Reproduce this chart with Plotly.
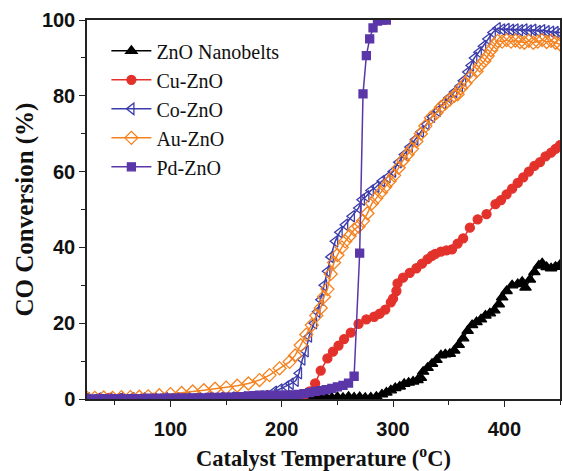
import plotly.graph_objects as go

# ---- data ----
zno_x = [200, 210, 220, 225, 230, 235, 240, 245, 250, 255, 260, 265, 270, 275, 280, 285, 290, 294, 298, 302, 306,
         310, 314, 318, 322, 325, 327, 331, 335, 339, 343, 347, 351, 355, 359, 363, 367, 371, 375, 379, 383, 387,
         391, 395, 398, 402, 407, 412, 416, 419, 423, 427, 431, 434, 438, 442, 446, 450]
zno_y = [0.0, 0.1, 0.0, 0.2, 0.3, 0.2, 0.4, 0.3, 0.5, 0.3, 0.6, 0.4, 0.5, 0.3, 0.4, 0.6, 1.2, 1.7, 2.3, 2.9, 3.3,
         4.0, 4.3, 4.6, 5.0, 5.6, 7.2, 8.2, 9.3, 10.3, 11.5, 11.8, 11.9, 12.8, 14.3, 16.0, 18.0, 19.5, 20.3, 21.0,
         22.0, 22.6, 23.4, 25.0, 26.8, 28.5, 30.0, 30.3, 30.9, 29.4, 31.5, 33.5, 35.2, 35.8, 34.8, 34.5, 34.9, 35.4]

cu_x = [25, 35, 45, 55, 65, 75, 85, 95, 105, 115, 125, 135, 145, 155, 165, 175, 185, 195, 205, 210, 215, 220, 225,
        230, 235, 241, 246, 251, 256, 262, 269, 276, 283, 288, 293, 298, 300, 303, 304, 309, 315, 321, 326, 331, 335,
        338, 343, 348, 353, 358, 363, 369, 376, 384, 392, 397, 402, 407, 412, 417, 422, 427, 432, 437, 442, 446, 450]
cu_y = [0.2, 0.1, 0.3, 0.2, 0.1, 0.2, 0.3, 0.1, 0.2, 0.2, 0.1, 0.3, 0.2, 0.2, 0.1, 0.2, 0.3, 0.2, 0.3, 0.6, 1.0,
        1.0, 2.0, 4.1, 7.5, 10.7, 12.5, 14.1, 15.8, 17.5, 19.8, 21.0, 21.7, 22.5, 23.6, 25.5, 26.5, 28.5, 30.5, 32.0,
        33.3, 34.5, 35.7, 36.9, 37.8, 38.3, 38.9, 39.2, 39.5, 41.0, 42.4, 45.2, 47.4, 48.8, 51.4, 52.5, 54.0, 55.5,
        57.0, 58.5, 60.0, 61.5, 62.5, 64.0, 65.0, 66.0, 67.0]

co_x = [25, 35, 45, 55, 65, 75, 85, 95, 105, 115, 125, 135, 145, 155, 165, 175, 185, 193, 198, 204, 208, 212.5,
        215.5, 218.5, 221.5, 224.5, 229, 232, 235, 238, 241, 244, 248, 252, 257, 263, 269, 272, 276, 280, 285, 290,
        295, 300, 305, 310, 315, 320, 325, 330, 335, 340, 345, 350, 355, 360, 363, 367, 370, 373, 377, 381, 385,
        389.6, 394, 398, 402, 406, 410, 414, 418, 422, 426, 430, 434, 438, 442, 446, 450]
co_y = [0.1, 0.1, 0.2, 0.1, 0.2, 0.2, 0.1, 0.2, 0.2, 0.3, 0.2, 0.3, 0.3, 0.4, 0.4, 0.5, 0.8, 1.9, 2.5, 3.3, 4.0,
        4.8, 6.8, 10.4, 12.6, 16.5, 20.0, 23.0, 26.2, 30.0, 33.7, 37.5, 41.6, 44.0, 46.0, 48.2, 50.4, 52.6, 53.5,
        55.0, 56.0, 57.5, 58.5, 60.0, 62.5, 64.5, 66.5, 68.5, 70.5, 72.5, 74.5, 76.0, 78.0, 79.5, 81.0, 82.5, 84.0,
        86.3, 88.0, 90.0, 91.5, 93.1, 95.0, 96.7, 97.8, 97.5, 97.6, 97.4, 97.5, 97.3, 97.5, 97.2, 97.4, 97.1, 97.3,
        97.0, 96.9, 96.8, 96.7]

au_x = [25, 32, 40, 48, 56, 64, 72, 80, 90, 100, 110, 120, 130, 140, 150, 160, 170, 180, 189, 198, 207, 212, 217,
        222, 227, 231, 235, 238, 241, 244, 247, 250, 254, 257, 261, 265, 269, 273, 277, 281, 285, 289, 293, 297, 301,
        305, 309, 313, 317, 321, 325, 329, 334, 339, 343, 347, 351, 355, 358, 361, 365, 370, 375, 378, 382, 385, 388,
        391, 394, 398, 402, 406, 410, 414, 418, 422, 426, 430, 434, 438, 442, 446, 450]
au_y = [0.3, 0.3, 0.4, 0.3, 0.5, 0.5, 0.6, 0.7, 1.0, 1.3, 1.6, 2.0, 2.3, 2.7, 3.0, 3.5, 4.1, 5.0, 6.3, 8.1, 9.8,
        11.5, 14.2, 17.0, 19.5, 22.0, 24.0, 27.0, 29.0, 33.0, 36.0, 38.0, 40.0, 41.6, 43.0, 44.7, 45.5, 47.0, 49.0,
        51.6, 53.0, 54.5, 56.0, 57.5, 59.0, 61.0, 63.0, 64.5, 66.0, 68.0, 70.0, 72.0, 74.2, 75.5, 77.0, 78.0, 79.0,
        80.0, 80.4, 82.0, 83.3, 85.0, 86.5, 88.0, 89.2, 90.5, 92.0, 93.3, 94.5, 94.3, 94.7, 94.3, 94.6, 94.2, 94.0,
        94.5, 94.0, 94.3, 94.7, 94.2, 94.5, 94.0, 93.6]

pd_x = [25, 30, 35, 40, 45, 50, 55, 60, 65, 70, 75, 80, 85, 90, 95, 100, 105, 110, 115, 120, 125, 130, 135, 140,
        145, 150, 155, 160, 165, 170, 175, 180, 185, 190, 195, 200, 205, 210, 215, 220, 225, 230, 235, 240, 245, 250,
        255, 260, 265, 270, 273, 276, 279, 282, 286, 290, 294]
pd_y = [0.0, 0.0, 0.0, 0.1, 0.0, 0.1, 0.1, 0.0, 0.1, 0.1, 0.1, 0.2, 0.1, 0.2, 0.2, 0.2, 0.2, 0.3, 0.2, 0.3, 0.3, 0.3,
        0.4, 0.4, 0.4, 0.5, 0.5, 0.6, 0.6, 0.8, 0.9, 1.0, 1.0, 1.0, 1.0, 1.0, 1.0, 1.1, 1.2, 1.4, 1.7, 2.0, 2.2, 2.5,
        2.8, 3.2, 3.6, 4.2, 6.0, 38.5, 80.5, 90.6, 95.0, 97.9, 99.7, 100.0, 100.0]

names = ["ZnO Nanobelts", "Cu-ZnO", "Co-ZnO", "Au-ZnO", "Pd-ZnO"]
colors = ["#000000", "#e3322b", "#3c3cab", "#f5821f", "#5b36a8"]
symbols = ["triangle-up", "circle", "triangle-left-open", "diamond-open", "square"]
sizes = [10, 9, 10, 10, 8]
xs = [zno_x, cu_x, co_x, au_x, pd_x]
ys = [zno_y, cu_y, co_y, au_y, pd_y]

fig = go.Figure()
for n, c, s, sz, x, y in zip(names, colors, symbols, sizes, xs, ys):
    fig.add_trace(go.Scatter(
        x=x, y=y, name=n, mode="lines+markers",
        line=dict(color=c, width=1.5),
        marker=dict(symbol=s, size=sz, color=c, line=dict(color=c, width=1.3)),
    ))

tickfont = dict(family="Liberation Sans, Arial", size=20, color="#111111", weight="bold")
xtitlefont = dict(family="Liberation Serif, Times New Roman", size=22.5, color="#111111", weight="bold")
ytitlefont = dict(family="Liberation Serif, Times New Roman", size=25, color="#111111", weight="bold")

fig.update_layout(
    width=563, height=471,
    margin=dict(l=87, r=1, t=20, b=71),
    paper_bgcolor="white", plot_bgcolor="white",
    showlegend=True,
    legend=dict(x=0.041, y=0.97, xanchor="left", yanchor="top",
                font=dict(family="Liberation Serif, Times New Roman", size=20, color="#111111"),
                bgcolor="rgba(0,0,0,0)", tracegroupgap=0, itemwidth=40),
    xaxis=dict(range=[25, 450], tickmode="linear", tick0=0, dtick=100,
               ticks="outside", ticklen=6, tickwidth=1.3, tickcolor="#222222",
               minor=dict(ticks="outside", ticklen=4, dtick=50, tick0=0, tickcolor="#222222"),
               showline=True, linecolor="#222222", linewidth=1.5, mirror=True,
               showgrid=False, zeroline=False, tickfont=tickfont, ticklabelstandoff=5,
               title=dict(text="Catalyst Temperature (<sup>o</sup>C)", font=xtitlefont, standoff=14)),
    yaxis=dict(range=[0, 100], tickmode="linear", tick0=0, dtick=20,
               ticks="outside", ticklen=6, tickwidth=1.3, tickcolor="#222222",
               minor=dict(ticks="outside", ticklen=4, dtick=10, tick0=0, tickcolor="#222222"),
               showline=True, linecolor="#222222", linewidth=1.5, mirror=True,
               showgrid=False, zeroline=False, tickfont=tickfont,
               title=dict(text="CO Conversion (%)", font=ytitlefont, standoff=1)),
)

fig.write_html("out.html")
